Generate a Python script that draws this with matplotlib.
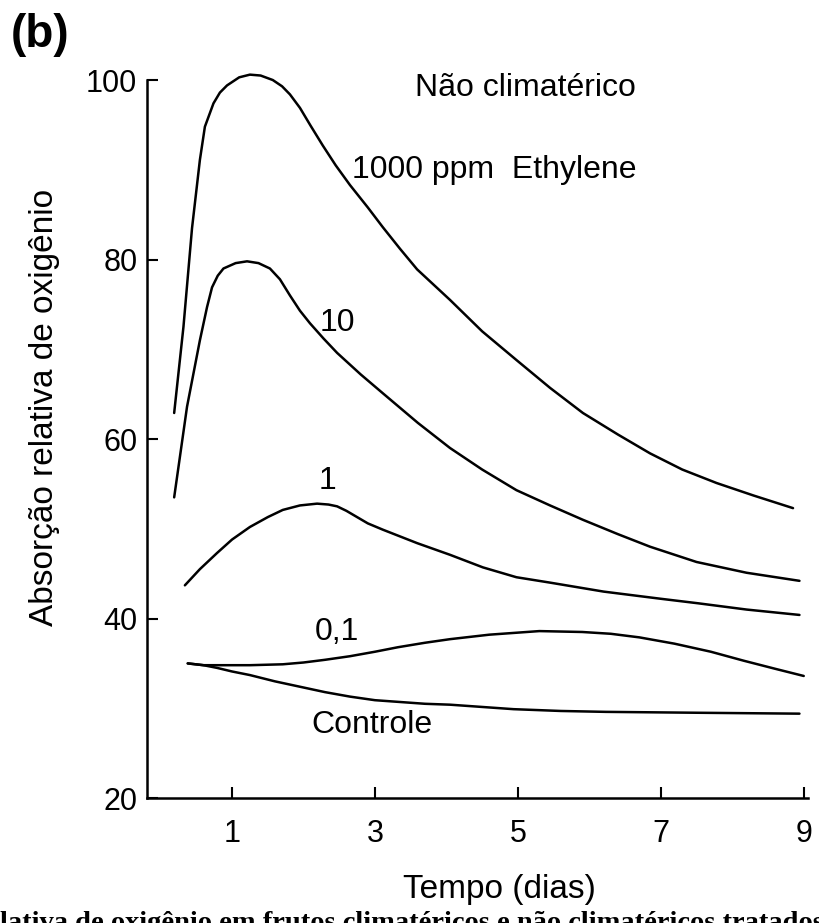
import matplotlib
matplotlib.use("Agg")
import matplotlib.pyplot as plt

plt.rcParams['font.family'] = ['Liberation Sans', 'DejaVu Sans']

# curves (days, relative O2 uptake)
days_1000 = [0.19, 0.32, 0.44, 0.55, 0.62, 0.74, 0.83, 0.93, 1.1, 1.25, 1.4, 1.57, 1.7, 1.81,
             1.95, 2.1, 2.27, 2.45, 2.65, 2.9, 3.11, 3.35, 3.59, 4.05, 4.5, 4.98, 5.45, 5.91,
             6.4, 6.85, 7.3, 7.78, 8.3, 8.85]
vals_1000 = [62.9, 72.5, 83.5, 91.1, 94.8, 97.4, 98.6, 99.4, 100.3, 100.6, 100.5, 100.0, 99.3, 98.4,
             96.9, 94.9, 92.7, 90.5, 88.3, 85.8, 83.6, 81.2, 78.9, 75.5, 72.0, 68.8, 65.7, 62.9,
             60.5, 58.4, 56.6, 55.1, 53.7, 52.3]

days_10 = [0.19, 0.37, 0.55, 0.65, 0.72, 0.8, 0.88, 1.05, 1.21, 1.37, 1.53, 1.67, 1.81, 1.95,
           2.09, 2.28, 2.47, 2.8, 3.11, 3.6, 4.05, 4.5, 4.98, 5.45, 5.91, 6.4, 6.85, 7.5, 8.2, 8.94]
vals_10 = [53.5, 63.6, 71.0, 74.7, 76.9, 78.2, 79.0, 79.6, 79.8, 79.6, 79.0, 77.8, 76.0, 74.3,
           72.9, 71.2, 69.6, 67.2, 65.1, 61.8, 59.0, 56.6, 54.3, 52.6, 51.0, 49.4, 48.0, 46.3, 45.1, 44.2]

days_1 = [0.34, 0.55, 0.79, 1.0, 1.25, 1.5, 1.71, 1.95, 2.19, 2.35, 2.47, 2.6, 2.75, 2.9, 3.11,
          3.59, 4.05, 4.51, 4.98, 5.45, 6.2, 7.0, 7.52, 8.2, 8.94]
vals_1 = [43.7, 45.5, 47.3, 48.8, 50.2, 51.3, 52.1, 52.6, 52.8, 52.7, 52.5, 52.0, 51.3, 50.6, 49.9,
          48.4, 47.1, 45.7, 44.6, 44.0, 43.0, 42.2, 41.7, 41.0, 40.4]

days_01 = [0.38, 0.6, 0.79, 1.25, 1.71, 2.0, 2.3, 2.65, 3.0, 3.32, 3.7, 4.05, 4.6, 5.3, 5.9,
           6.3, 6.7, 7.19, 7.7, 8.16, 8.6, 9.0]
vals_01 = [35.0, 34.8, 34.8, 34.8, 34.9, 35.1, 35.4, 35.8, 36.3, 36.8, 37.3, 37.7, 38.2, 38.6, 38.5,
           38.3, 37.9, 37.2, 36.3, 35.3, 34.4, 33.6]

days_ctrl = [0.38, 0.6, 0.79, 1.0, 1.25, 1.6, 1.95, 2.3, 2.65, 3.0, 3.35, 3.7, 4.05, 4.94, 5.6,
             6.23, 7.52, 8.94]
vals_ctrl = [35.0, 34.8, 34.5, 34.1, 33.7, 33.0, 32.4, 31.8, 31.3, 30.9, 30.7, 30.5, 30.4, 29.9, 29.7,
             29.6, 29.5, 29.4]

x_ticks = [1, 3, 5, 7, 9]
y_ticks = [20, 40, 60, 80, 100]

fig = plt.figure(figsize=(8.19, 9.23), dpi=100)
ax = fig.add_axes([0.1795, 0.1354, 0.8071, 0.7779])

for d, v in [(days_1000, vals_1000), (days_10, vals_10), (days_1, vals_1),
             (days_01, vals_01), (days_ctrl, vals_ctrl)]:
    ax.plot(d, v, color='black', lw=1.8, clip_on=False,
            solid_capstyle='round', solid_joinstyle='round')

ax.set_xlim(-0.19, 9.06)
ax.set_ylim(20, 100)
ax.set_xticks(x_ticks)
ax.set_yticks(y_ticks)
ax.spines['top'].set_visible(False)
ax.spines['right'].set_visible(False)
for s in ['left', 'bottom']:
    ax.spines[s].set_linewidth(1.8)
ax.tick_params(axis='both', direction='in', length=8, width=1.5, labelsize=22)
ax.tick_params(axis='x', pad=15)
ax.tick_params(axis='y', pad=7)

ax.set_xlabel('Tempo (dias)', fontsize=24)
ax.xaxis.set_label_coords(0.533, -0.106)
ax.set_ylabel('Absorção relativa de oxigênio', fontsize=24)
ax.yaxis.set_label_coords(-0.132, 0.544)

# curve labels
ax.text(5.10, 99.1, 'Não climatérico', fontsize=23, ha='center', va='center')
ax.text(2.68, 90.0, '1000 ppm  Ethylene', fontsize=23, ha='left', va='center')
ax.text(2.48, 72.9, '10', fontsize=23, ha='center', va='center')
ax.text(2.34, 55.3, '1', fontsize=23, ha='center', va='center')
ax.text(2.47, 38.5, '0,1', fontsize=23, ha='center', va='center')
ax.text(2.96, 28.1, 'Controle', fontsize=23, ha='center', va='center')

fig.text(40 / 819, 1 - 35 / 923, '(b)', fontsize=33, fontweight='bold', ha='center', va='center')

# cut-off caption line at the bottom of the scan (only its top shows, as in the source)
fig.text(0.0, -0.008, 'lativa de oxigênio em frutos climatéricos e não climatéricos tratados com',
         fontsize=20.5, family='Liberation Serif', fontweight='bold', ha='left', va='baseline')

fig.savefig('out.png', dpi=100)
